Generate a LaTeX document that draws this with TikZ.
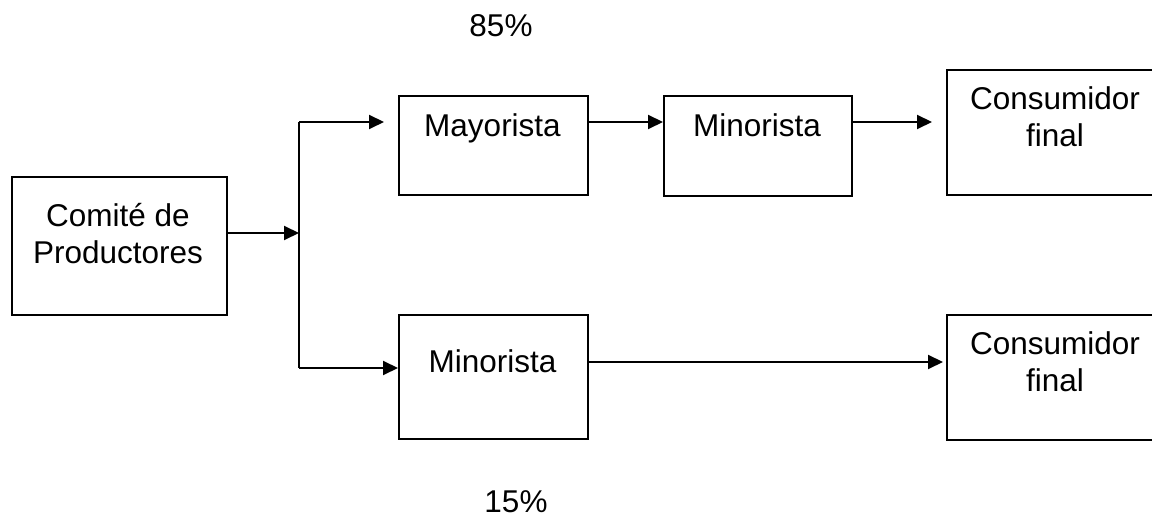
\documentclass[tikz,border=0pt]{standalone}
\usepackage{fontspec}
\setmainfont{Liberation Sans}
\usetikzlibrary{arrows.meta}
\begin{document}
\begin{tikzpicture}[x=1pt,y=-1pt,
  box/.style={draw, line width=2pt, anchor=north west, inner sep=0pt},
  txt/.style={align=center, font=\fontsize{31.5}{37}\selectfont, inner sep=0pt, anchor=base},
  ln/.style={line width=2pt},
  arr/.style={line width=2pt, -{Triangle[length=15pt,width=14pt]}}]
\useasboundingbox (0,0) rectangle (1152,518);
\clip (0,0) rectangle (1152,518);
\node[box, minimum width=215pt, minimum height=138pt] (com) at (11,176) {};
\node[box, minimum width=189pt, minimum height=99pt] (may) at (398,95) {};
\node[box, minimum width=188pt, minimum height=100pt] (min1) at (663,95) {};
\node[box, minimum width=300pt, minimum height=125pt] (con1) at (946,69) {};
\node[box, minimum width=189pt, minimum height=124pt] (min2) at (398,314) {};
\node[box, minimum width=300pt, minimum height=125pt] (con2) at (946,314) {};
\node[txt] (comt) at (118,264) {Comité de\\Productores};
\node[txt] (mayt) at (492.5,137) {Mayorista};
\node[txt] (min1t) at (757,137) {Minorista};
\node[txt] (con1t) at (1055,147) {Consumidor\\final};
\node[txt] (min2t) at (492.5,373) {Minorista};
\node[txt] (con2t) at (1055,392) {Consumidor\\final};
\node[txt] (p85) at (501,37) {85\%};
\node[txt] (p15) at (516,512) {15\%};
\coordinate (j) at (299,233);
\coordinate (jt) at (299,122);
\coordinate (jb) at (299,368);
\coordinate (r1) at (0,122);
\coordinate (r2) at (0,362);
\draw[arr] (com.east |- j) -- (j);
\draw[ln] (jt) -- (jb);
\draw[arr, shorten >=14pt] (jt) -- (may.west |- jt);
\draw[arr] (jb) -- (min2.west |- jb);
\draw[arr] (may.east |- r1) -- (min1.west |- r1);
\draw[arr, shorten >=14pt] (min1.east |- r1) -- (con1.west |- r1);
\draw[arr, shorten >=3pt] (min2.east |- r2) -- (con2.west |- r2);
\end{tikzpicture}
\end{document}
